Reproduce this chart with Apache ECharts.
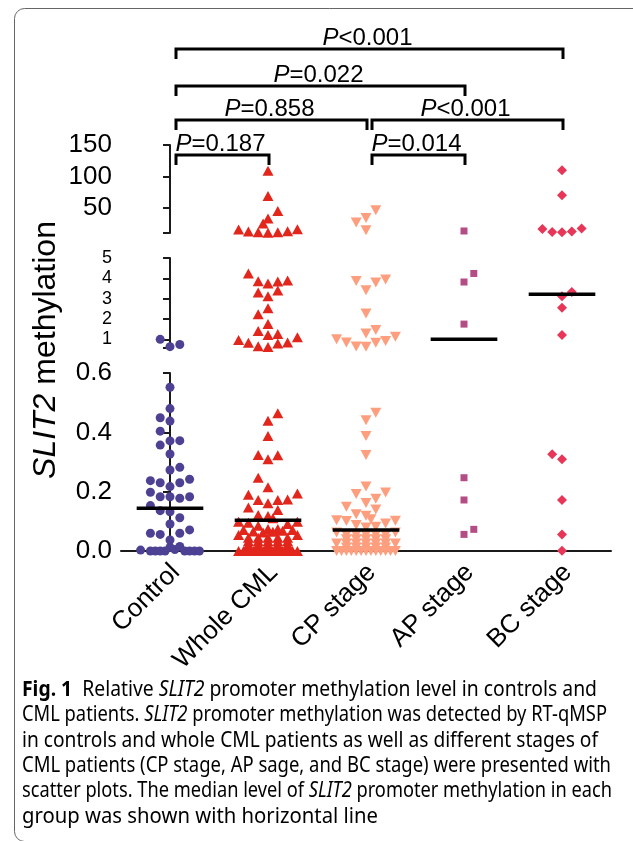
<!DOCTYPE html>
<html>
<head>
<meta charset="utf-8">
<script src="https://cdn.jsdelivr.net/npm/echarts@6/dist/echarts.min.js"></script>
<style>
  html, body { margin: 0; padding: 0; background: #fff; }
  #chart { width: 633px; height: 841px; }
</style>
</head>
<body>
<div id="chart"></div>
<script>
const categories = ['Control', 'Whole CML', 'CP stage', 'AP stage', 'BC stage']

// [column, value]; column = beeswarm column beside the group centre
const control = [
  [-1, 1.0], [0, 0.64], [1, 0.75],
  [0, 0.552], [0, 0.480], [-1, 0.449], [0, 0.438], [-1, 0.404], [-1, 0.357], [0, 0.371], [1, 0.372],
  [0, 0.327], [0, 0.273], [1, 0.282], [-2, 0.237], [-1, 0.230], [0, 0.217], [1, 0.230], [2, 0.242],
  [-2, 0.198], [-1, 0.183], [0, 0.183], [1, 0.178], [2, 0.183], [-2, 0.153], [-1, 0.136], [0, 0.132],
  [1, 0.112], [0, 0.091], [-2, 0.060], [-1, 0.056], [1, 0.060], [2, 0.071], [0, 0.037],
  [-3, 0.003], [-2, 0], [-1.5, 0], [-1, 0], [-0.5, 0], [0, 0.012], [0.5, 0.005], [1, 0.015],
  [1.5, 0], [2, 0], [2.5, 0], [3, 0]
]
const wholeCML = [
  [0, 109], [0, 69], [1, 45], [0, 33], [-0.5, 25],
  [-3, 15.4], [-2, 12.2], [-1, 11.1], [0, 10.2], [1, 11.1], [2, 12.7], [3, 15.9],
  [-2, 4.24], [-1, 3.86], [0, 3.75], [1, 3.84], [2, 3.89], [-1, 3.30], [0, 3.12], [1, 3.40],
  [0, 2.53], [-1, 2.24], [0, 1.75], [-1, 1.41], [0, 1.21], [1, 1.26],
  [-3, 0.97], [-2, 0.83], [-1, 0.66], [0, 0.63], [1, 0.80], [2, 0.85], [3, 1.10],
  [1, 0.464], [0, 0.439], [0, 0.388], [-1, 0.324], [0, 0.309], [1, 0.323], [-1, 0.247], [0, 0.215],
  [-2, 0.190], [-1, 0.172], [0, 0.161], [1, 0.172], [2, 0.174], [3, 0.194], [-2, 0.147], [1, 0.138],
  [-1, 0.121], [0, 0.118], [0.5, 0.110], [-3, 0.099], [-2, 0.095], [2, 0.091], [3, 0.099], [-1, 0.085],
  [0, 0.074], [1, 0.074], [-2.5, 0.071], [-1.5, 0.066], [-0.5, 0.062], [0.5, 0.065], [1.5, 0.068],
  [2.5, 0.071], [-3, 0.054], [3, 0.054],
  [-2, 0.045], [-1, 0.045], [0, 0.045], [1, 0.045], [2, 0.045],
  [-2, 0.033], [-1, 0.033], [0, 0.033], [1, 0.033], [2, 0.033],
  [-2, 0.022], [-1, 0.022], [0, 0.022], [1, 0.022], [2, 0.022],
  [-2, 0.011], [-1, 0.011], [0, 0.011], [1, 0.011], [2, 0.011],
  [-3, 0], [-2.5, 0], [-2, 0], [-1.5, 0], [-1, 0], [-0.5, 0], [0, 0], [0.5, 0], [1, 0], [1.5, 0],
  [2, 0], [2.5, 0], [3, 0]
]
const cpStage = [
  [1, 46.3], [0, 34], [-1, 26.6], [0, 14.3],
  [-1, 3.87], [1, 3.79], [2, 3.94], [0, 3.42], [0, 2.27], [0, 1.29], [1, 1.46], [-3, 1.01],
  [-2, 0.85], [-1, 0.65], [0, 0.64], [1, 0.83], [2, 0.92], [3, 1.13],
  [1, 0.466], [0, 0.441], [0, 0.388], [0, 0.324], [0, 0.217], [-1, 0.192], [1, 0.176], [2, 0.197],
  [0, 0.162], [-2, 0.149], [1, 0.140], [-1, 0.124], [0, 0.119], [0.5, 0.107], [-3, 0.104], [-2, 0.101],
  [2, 0.093], [3, 0.102], [-1, 0.088], [0, 0.079], [1, 0.082],
  [-3, 0.062], [3, 0.062], [-3, 0.025], [3, 0.025],
  [-2, 0.055], [-1, 0.055], [0, 0.055], [1, 0.055], [2, 0.055],
  [-2, 0.040], [-1, 0.040], [0, 0.040], [1, 0.040], [2, 0.040],
  [-2, 0.025], [-1, 0.025], [0, 0.025], [1, 0.025], [2, 0.025],
  [-2, 0.012], [-1, 0.012], [0, 0.012], [1, 0.012], [2, 0.012],
  [-3, 0], [-2.5, 0], [-2, 0], [-1.5, 0], [-1, 0], [-0.5, 0], [0, 0], [0.5, 0], [1, 0], [1.5, 0],
  [2, 0], [2.5, 0], [3, 0]
]
const apStage = [
  [0, 13.2], [1, 4.24], [0, 3.82], [0, 1.75], [0, 0.247], [0, 0.172], [0, 0.056], [1, 0.073]
]
const bcStage = [
  [0, 110], [0, 70.2], [-2, 16.4], [-1, 11.6], [0, 11.1], [1, 12.2], [2, 17],
  [1, 3.33], [0, 3.12], [0, 2.55], [0, 1.21],
  [-1, 0.326], [0, 0.309], [0, 0.172], [0, 0.056], [0, 0.001]
]
const medians = [0.144, 0.104, 0.071, 1.0, 3.22]

const topTicks = [10, 50, 100, 150]
const topLabels = [50, 100, 150]
const midTicks = [0.6, 1, 2, 3, 4, 5]
const midLabels = [1, 2, 3, 4, 5]

// [from group, to group, label, level]
const brackets = [
  [0, 4, '<0.001', 0],
  [0, 3, '=0.022', 1],
  [0, 2, '=0.858', 2],
  [2, 4, '<0.001', 2],
  [0, 1, '=0.187', 3],
  [2, 3, '=0.014', 3]
]

const captionLines = [
  [['b', 'Fig. 1'], ['n', '  Relative '], ['i', 'SLIT2'], ['n', ' promoter methylation level in controls and']],
  [['n', 'CML patients. '], ['i', 'SLIT2'], ['n', ' promoter methylation was detected by RT-qMSP']],
  [['n', 'in controls and whole CML patients as well as different stages of']],
  [['n', 'CML patients (CP stage, AP sage, and BC stage) were presented with']],
  [['n', 'scatter plots. The median level of '], ['i', 'SLIT2'], ['n', ' promoter methylation in each']],
  [['n', 'group was shown with horizontal line']]
]
// right edge of each caption line in the figure
const captionEnds = [597, 607, 598, 611, 612, 378]

const groups = [control, wholeCML, cpStage, apStage, bcStage]
const marks = [
  { symbol: 'circle', size: 9, rotate: 0, color: '#4d4193' },
  { symbol: 'triangle', size: [11, 10], rotate: 0, color: '#e2261c' },
  { symbol: 'triangle', size: [11, 10], rotate: 180, color: '#fd9f7e' },
  { symbol: 'rect', size: 7, rotate: 0, color: '#b44c85' },
  { symbol: 'diamond', size: [10, 10], rotate: 0, color: '#e73658' }
]
const COL = 0.1
const FONT = 'Liberation Sans'
const INK = '#1a1a1a'

const segmentOf = v => (v > 5 ? 0 : v > 0.6 ? 1 : 2)

const chart = echarts.init(document.getElementById('chart'))

const axisLine = { show: true, lineStyle: { color: INK, width: 2 } }
const tickStyle = { color: INK, width: 2 }

const series = []
groups.forEach((pts, g) => {
  for (let s = 0; s < 3; s++) {
    const data = pts.filter(p => segmentOf(p[1]) === s).map(p => [g + p[0] * COL, p[1]])
    if (!data.length) continue
    series.push({
      type: 'scatter',
      xAxisIndex: s,
      yAxisIndex: s,
      data,
      symbol: marks[g].symbol,
      symbolSize: marks[g].size,
      symbolRotate: marks[g].rotate,
      itemStyle: { color: marks[g].color, opacity: 1 },
      clip: false,
      silent: true,
      z: 2
    })
  }
  const m = medians[g]
  const s = segmentOf(m)
  series.push({
    type: 'line',
    xAxisIndex: s,
    yAxisIndex: s,
    data: [[g - 0.34, m], [g + 0.34, m]],
    symbol: 'none',
    lineStyle: { color: '#000', width: 3.5 },
    silent: true,
    z: 5
  })
})

const option = {
  animation: false,
  grid: [
    { left: 121, right: 22, top: 145, height: 88 },
    { left: 121, right: 22, top: 258, height: 89.5 },
    { left: 121, right: 22, top: 373, height: 178 }
  ],
  xAxis: [
    { type: 'value', gridIndex: 0, min: -0.5, max: 4.5, show: false },
    { type: 'value', gridIndex: 1, min: -0.5, max: 4.5, show: false },
    { type: 'value', gridIndex: 2, min: -0.5, max: 4.5, show: false },
    {
      type: 'category',
      gridIndex: 2,
      position: 'bottom',
      data: categories,
      axisLine: { show: true, onZero: false, lineStyle: { color: INK, width: 2 } },
      axisTick: { alignWithLabel: true, length: 8, lineStyle: tickStyle },
      axisLabel: {
        interval: 0, rotate: 45, fontSize: 26, fontFamily: FONT, color: '#000',
        margin: 23, padding: [0, -8, 0, 0]
      },
      splitLine: { show: false }
    }
  ],
  yAxis: [
    {
      type: 'value', gridIndex: 0, min: 10, max: 150,
      axisLine,
      axisTick: { show: true, length: 7, lineStyle: tickStyle, customValues: topTicks },
      axisLabel: { customValues: topLabels, fontSize: 26, fontFamily: FONT, color: '#000', margin: 9 },
      splitLine: { show: false }
    },
    {
      type: 'value', gridIndex: 1, min: 0.6, max: 5,
      axisLine,
      axisTick: { show: true, length: 7, lineStyle: tickStyle, customValues: midTicks },
      axisLabel: { customValues: midLabels, fontSize: 18, fontFamily: FONT, color: '#000', margin: 9 },
      splitLine: { show: false }
    },
    {
      type: 'value', gridIndex: 2, min: 0, max: 0.6, interval: 0.2,
      axisLine,
      axisTick: { show: true, length: 7, lineStyle: tickStyle },
      axisLabel: { fontSize: 26, fontFamily: FONT, color: '#000', margin: 9, formatter: v => v.toFixed(1) },
      splitLine: { show: false }
    }
  ],
  series
}

chart.setOption(option)

// annotations: brackets, axis title, caption, frame
const pText = { fontFamily: FONT, fontSize: 24, color: '#000' }
const levelY = [49, 86, 120, 155]
const graphic = []

brackets.forEach(([a, b, label, lv]) => {
  const x1 = chart.convertToPixel({ xAxisIndex: 2 }, a) + 6
  const x2 = chart.convertToPixel({ xAxisIndex: 2 }, b) + 1
  const y = levelY[lv]
  graphic.push({
    type: 'polyline',
    shape: { points: [[x1, y + 10], [x1, y], [x2, y], [x2, y + 10]] },
    style: { stroke: '#000', lineWidth: 3, fill: null, lineJoin: 'miter' },
    silent: true
  })
  graphic.push({
    type: 'text',
    x: (x1 + x2) / 2 - 2,
    y: y + 1,
    style: {
      text: '{i|P}{n|' + label + '}',
      align: 'center',
      verticalAlign: 'bottom',
      rich: { i: Object.assign({ fontStyle: 'italic' }, pText), n: pText }
    },
    silent: true
  })
})

const titleText = { fontFamily: FONT, fontSize: 32, color: '#000' }
graphic.push({
  type: 'text',
  x: 46,
  y: 350,
  rotation: Math.PI / 2,
  style: {
    text: '{i|SLIT2}{n| methylation}',
    align: 'center',
    verticalAlign: 'middle',
    rich: { i: Object.assign({ fontStyle: 'italic' }, titleText), n: titleText }
  },
  silent: true
})

const capFont = 'Noto Sans'
const capSize = 21
const capStyles = {
  n: { fontFamily: capFont, fontSize: capSize, color: '#231f20' },
  i: { fontFamily: capFont, fontSize: capSize, color: '#231f20', fontStyle: 'italic' },
  b: { fontFamily: capFont, fontSize: capSize, color: '#231f20', fontWeight: 'bold' }
}
const ctx = document.createElement('canvas').getContext('2d')
const cssFont = k => (k === 'i' ? 'italic ' : '') + (k === 'b' ? 'bold ' : '') + capSize + 'px "' + capFont + '"'
const lineWidth = parts => parts.reduce((w, [k, t]) => {
  ctx.font = cssFont(k)
  return w + ctx.measureText(t).width
}, 0)
const capY = [690, 715.5, 741, 766, 791.5, 817]

captionLines.forEach((parts, i) => {
  graphic.push({
    type: 'text',
    x: 22,
    y: capY[i],
    scaleX: (captionEnds[i] - 22) / lineWidth(parts),
    style: {
      text: parts.map(([k, t]) => '{' + k + '|' + t + '}').join(''),
      align: 'left',
      verticalAlign: 'middle',
      rich: capStyles
    },
    silent: true
  })
})

graphic.push({
  type: 'rect',
  shape: { x: 14.5, y: 8.5, width: 700, height: 833, r: 10 },
  style: { fill: null, stroke: '#666', lineWidth: 1 },
  silent: true
})

chart.setOption({ graphic })
</script>
</body>
</html>
